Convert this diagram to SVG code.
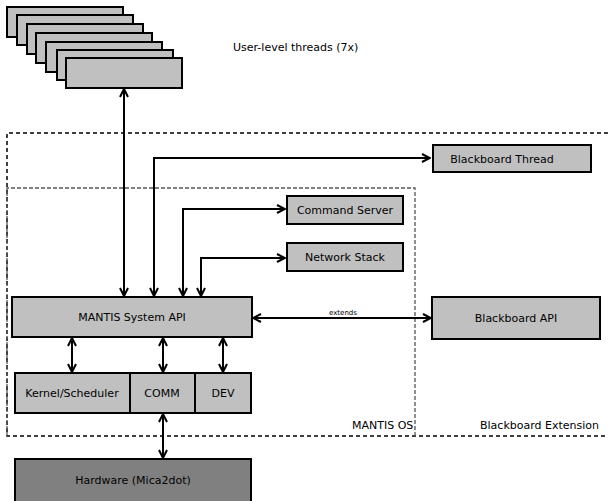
<svg xmlns="http://www.w3.org/2000/svg" width="608" height="501" viewBox="0 0 608 501">
<defs>
<marker id="ah" viewBox="0 0 10 10" refX="9" refY="5" markerWidth="10" markerHeight="10" markerUnits="userSpaceOnUse" orient="auto-start-reverse">
<path d="M1,1 L9,5 L1,9" fill="none" stroke="#000" stroke-width="2"/>
</marker>
<style>
.box{fill:#c0c0c0;stroke:#000;stroke-width:2}
.hw{fill:#808080;stroke:#000;stroke-width:2}
.t{font-family:"DejaVu Sans",sans-serif;font-size:11px;fill:#000;text-anchor:middle}
.lbl{font-family:"DejaVu Sans",sans-serif;font-size:11px;fill:#000}
.c{fill:none;stroke:#000;stroke-width:2}
.outer{fill:none;stroke:#000;stroke-width:1.5;stroke-dasharray:4,3}
.inner{fill:none;stroke:#555;stroke-width:1.3;stroke-dasharray:4,2}
</style>
</defs>
<rect width="608" height="501" fill="#fff"/>
<g id="regions">
<path class="outer" d="M608,133 H7 V436 H608"/>
<path class="inner" d="M7,436 V188 H415 V436"/>
<text class="lbl" x="352" y="429">MANTIS OS</text>
<text class="lbl" x="480" y="429">Blackboard Extension</text>
</g>
<g id="threads">
<rect class="box" x="7" y="7" width="116" height="30"/>
<rect class="box" x="17" y="15" width="116" height="30"/>
<rect class="box" x="27" y="24" width="116" height="30"/>
<rect class="box" x="36" y="33" width="116" height="30"/>
<rect class="box" x="46" y="42" width="116" height="30"/>
<rect class="box" x="57" y="50" width="116" height="30"/>
<rect class="box" x="66" y="58" width="116" height="30"/>
<text class="lbl" x="233" y="51">User-level threads (7x)</text>
</g>
<g id="bbthread">
<rect class="box" x="433" y="145" width="158" height="27"/>
<text class="t" x="502" y="163">Blackboard Thread</text>
</g>
<g id="cmdserver">
<rect class="box" x="287" y="196" width="116" height="28"/>
<text class="t" x="345" y="214">Command Server</text>
</g>
<g id="netstack">
<rect class="box" x="287" y="243" width="116" height="28"/>
<text class="t" x="345" y="261">Network Stack</text>
</g>
<g id="api">
<rect class="box" x="12" y="297" width="240" height="40"/>
<text class="t" x="132" y="321">MANTIS System API</text>
</g>
<g id="bbapi">
<rect class="box" x="432" y="297" width="168" height="42"/>
<text class="t" x="516" y="322">Blackboard API</text>
</g>
<g id="kernel">
<rect class="box" x="15" y="373" width="115" height="40"/>
<text class="t" x="72" y="397">Kernel/Scheduler</text>
</g>
<g id="comm">
<rect class="box" x="130" y="373" width="65" height="40"/>
<text class="t" x="162" y="397">COMM</text>
</g>
<g id="dev">
<rect class="box" x="195" y="373" width="56" height="40"/>
<text class="t" x="223" y="397">DEV</text>
</g>
<g id="hardware">
<rect class="hw" x="15" y="459" width="236" height="50"/>
<text class="t" x="133" y="484">Hardware (Mica2dot)</text>
</g>
<g id="connectors">
<path class="c" d="M124,89 V296" marker-start="url(#ah)" marker-end="url(#ah)"/>
<path class="c" d="M154,296 V158 H430" marker-start="url(#ah)" marker-end="url(#ah)"/>
<path class="c" d="M183,296 V209 H285" marker-start="url(#ah)" marker-end="url(#ah)"/>
<path class="c" d="M201,296 V258 H285" marker-start="url(#ah)" marker-end="url(#ah)"/>
<path class="c" d="M253,318 H431" marker-start="url(#ah)" marker-end="url(#ah)"/>
<text x="343" y="315" font-family="DejaVu Sans,sans-serif" font-size="7" text-anchor="middle">extends</text>
<path class="c" d="M72,338 V372" marker-start="url(#ah)" marker-end="url(#ah)"/>
<path class="c" d="M163,338 V372" marker-start="url(#ah)" marker-end="url(#ah)"/>
<path class="c" d="M223,338 V372" marker-start="url(#ah)" marker-end="url(#ah)"/>
<path class="c" d="M163,414 V458" marker-start="url(#ah)" marker-end="url(#ah)"/>
</g>
</svg>
